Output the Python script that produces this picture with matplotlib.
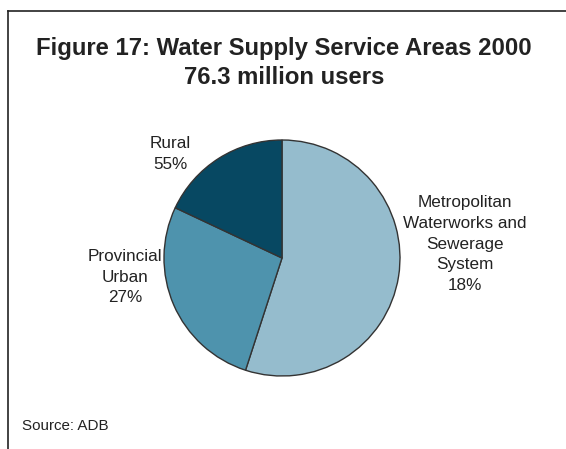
import matplotlib.pyplot as plt
from matplotlib.lines import Line2D

# Dati
shares = [55, 27, 18]
colors = ['#95bccd', '#4e93ad', '#074862']
labels = [
    'Metropolitan\nWaterworks and\nSewerage\nSystem\n18%',
    'Provincial\nUrban\n27%',
    'Rural\n55%',
]
title = 'Figure 17: Water Supply Service Areas 2000\n76.3 million users'
source = 'Source: ADB'

W, H = 566, 449
plt.rcParams['font.family'] = ['Liberation Sans', 'DejaVu Sans']
fig = plt.figure(figsize=(W / 100, H / 100), dpi=100)

# cornice (solo lato sinistro e superiore)
fig.add_artist(Line2D([8 / W, 8 / W], [0, 1 - 11 / H], color='#222222', lw=1.2,
                      transform=fig.transFigure))
fig.add_artist(Line2D([8 / W, 1], [1 - 11 / H, 1 - 11 / H], color='#222222', lw=1.2,
                      transform=fig.transFigure))

fig.text(284 / W, 1 - 63 / H, title, ha='center', va='center', fontsize=17.2,
         fontweight='bold', color='#222222', linespacing=1.32)

cx, cy, r = 282, 258, 118
ax = fig.add_axes([(cx - r) / W, (H - cy - r) / H, 2 * r / W, 2 * r / H])
ax.pie(shares, colors=colors, startangle=90, counterclock=False,
       wedgeprops=dict(edgecolor='#333333', linewidth=1))
ax.set_xlim(-1, 1)
ax.set_ylim(-1, 1)
ax.axis('off')

# posizioni delle etichette in pixel
label_pos = [(465, 244), (125, 277), (170, 154)]
for txt, (x, y) in zip(labels, label_pos):
    fig.text(x / W, 1 - y / H, txt, ha='center', va='center', fontsize=12.3,
             color='#222222', linespacing=1.48)

fig.text(22 / W, 1 - 426 / H, source, ha='left', va='center', fontsize=10.9,
         color='#222222')

fig.savefig('out.png', dpi=100)
